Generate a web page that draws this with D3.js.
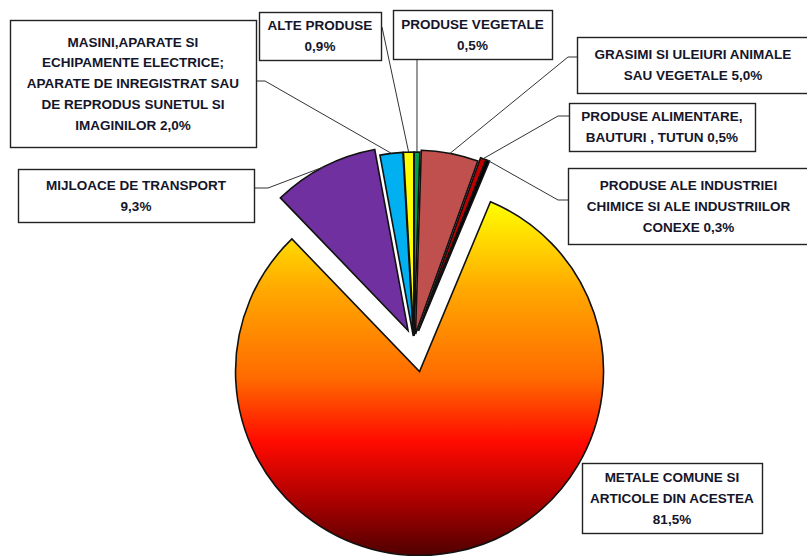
<!DOCTYPE html>
<html>
<head>
<meta charset="utf-8">
<script src="https://cdn.jsdelivr.net/npm/d3@7"></script>
<style>
  body { margin: 0; background: #fff; }
  svg { display: block; }
  .lbl { font-family: "Liberation Sans", Arial, sans-serif; font-weight: bold; font-size: 13.5px; fill: #15152a; }
</style>
</head>
<body>
<div id="chart"></div>
<script>
// data, clockwise from 12 o'clock
var categories = ["PRODUSE VEGETALE", "GRASIMI SI ULEIURI ANIMALE SAU VEGETALE", "PRODUSE ALIMENTARE, BAUTURI , TUTUN",
  "PRODUSE ALE INDUSTRIEI CHIMICE SI ALE INDUSTRIILOR CONEXE", "METALE COMUNE SI ARTICOLE DIN ACESTEA",
  "MIJLOACE DE TRANSPORT", "MASINI,APARATE SI ECHIPAMENTE ELECTRICE; APARATE DE INREGISTRAT SAU DE REPRODUS SUNETUL SI IMAGINILOR",
  "ALTE PRODUSE"];
var values = [0.5, 5.0, 0.5, 0.3, 81.5, 9.3, 2.0, 0.9];
// label text lines (percentage is appended to the last line)
var labelLines = [
  ["PRODUSE VEGETALE", ""],
  ["GRASIMI SI ULEIURI ANIMALE", "SAU VEGETALE "],
  ["PRODUSE ALIMENTARE,", "BAUTURI , TUTUN "],
  ["PRODUSE ALE INDUSTRIEI", "CHIMICE SI ALE INDUSTRIILOR", "CONEXE  "],
  ["METALE COMUNE SI", "ARTICOLE DIN ACESTEA", ""],
  ["MIJLOACE DE TRANSPORT", ""],
  ["MASINI,APARATE SI", "ECHIPAMENTE ELECTRICE;", "APARATE DE INREGISTRAT SAU", "DE REPRODUS SUNETUL SI", "IMAGINILOR "],
  ["ALTE PRODUSE", ""]
];
var colors = ["#00a04a", "#c0504d", "#c00000", "#000000", "url(#metGrad)", "#7030a0", "#00b0f0", "#ffff00"];

// layout
var width = 807, height = 556;
var cx = 414, cy = 342, radius = 184;
var explode = [6, 8, 12, 12, 30, 13, 6, 6];
// label boxes: x, y, w, h and leader elbow
var boxes = [
  {x: 393, y: 10, w: 159, h: 49, elbow: null, from: [417, 59]},
  {x: 577, y: 37, w: 232, h: 56, elbow: [568, 57], from: [577, 57]},
  {x: 569, y: 103, w: 186, h: 48, elbow: [558, 116], from: [569, 116]},
  {x: 568, y: 168, w: 241, h: 76, elbow: [558, 200], from: [568, 200]},
  {x: 582, y: 463, w: 180, h: 70, elbow: null, from: null},
  {x: 18, y: 169, w: 236, h: 53, elbow: [268, 188], from: [254, 188]},
  {x: 10, y: 20, w: 246, h: 127, elbow: [265, 81], from: [256, 81]},
  {x: 259, y: 12, w: 122, h: 48, elbow: null, from: [382, 27]}
];

var svg = d3.select("#chart").append("svg").attr("width", width).attr("height", height);

var defs = svg.append("defs");
var grad = defs.append("linearGradient").attr("id", "metGrad")
  .attr("x1", 0).attr("y1", 0).attr("x2", 0).attr("y2", 1);
[[0, "#ffff00"], [0.25, "#ffa800"], [0.5, "#ff6a00"], [0.68, "#ff0a00"], [0.85, "#a80000"], [1, "#500000"]]
  .forEach(function(s) { grad.append("stop").attr("offset", s[0]).attr("stop-color", s[1]); });

var pie = d3.pie().sort(null).value(function(d) { return d; });
var arcs = pie(values);
var arc = d3.arc().innerRadius(0).outerRadius(radius);

function fmt(v) { return d3.format(".1f")(v).replace(".", ",") + "%"; }
function sliceCenter(a, i) {
  var m = (a.startAngle + a.endAngle) / 2;
  return [cx + explode[i] * Math.sin(m), cy - explode[i] * Math.cos(m)];
}

svg.selectAll("path.slice").data(arcs).enter().append("path")
  .attr("class", "slice")
  .attr("d", arc)
  .attr("transform", function(d, i) { var c = sliceCenter(d, i); return "translate(" + c[0] + "," + c[1] + ")"; })
  .attr("fill", function(d, i) { return colors[i]; })
  .attr("stroke", "#111")
  .attr("stroke-width", 1.6)
  .attr("stroke-linejoin", "miter");

// leader lines
arcs.forEach(function(a, i) {
  var b = boxes[i];
  if (!b.from) return;
  var c = sliceCenter(a, i);
  var m = (a.startAngle + a.endAngle) / 2;
  var end = [c[0] + radius * Math.sin(m), c[1] - radius * Math.cos(m)];
  var pts = [b.from];
  if (b.elbow) pts.push(b.elbow);
  pts.push(end);
  svg.append("path").attr("d", d3.line()(pts))
    .attr("fill", "none").attr("stroke", "#333").attr("stroke-width", 1);
});

// label boxes
boxes.forEach(function(b, i) {
  var g = svg.append("g");
  g.append("rect").attr("x", b.x + 0.5).attr("y", b.y + 0.5).attr("width", b.w).attr("height", b.h)
    .attr("fill", "#fff").attr("stroke", "#222").attr("stroke-width", 1.4);
  var lines = labelLines[i].slice();
  lines[lines.length - 1] += fmt(values[i]);
  var lh = 20.8;
  var y0 = b.y + b.h / 2 - (lines.length - 1) * lh / 2;
  lines.forEach(function(t, j) {
    g.append("text").attr("class", "lbl")
      .attr("x", b.x + b.w / 2).attr("y", y0 + j * lh)
      .attr("dy", "0.35em").attr("text-anchor", "middle").text(t);
  });
});
</script>
</body>
</html>
